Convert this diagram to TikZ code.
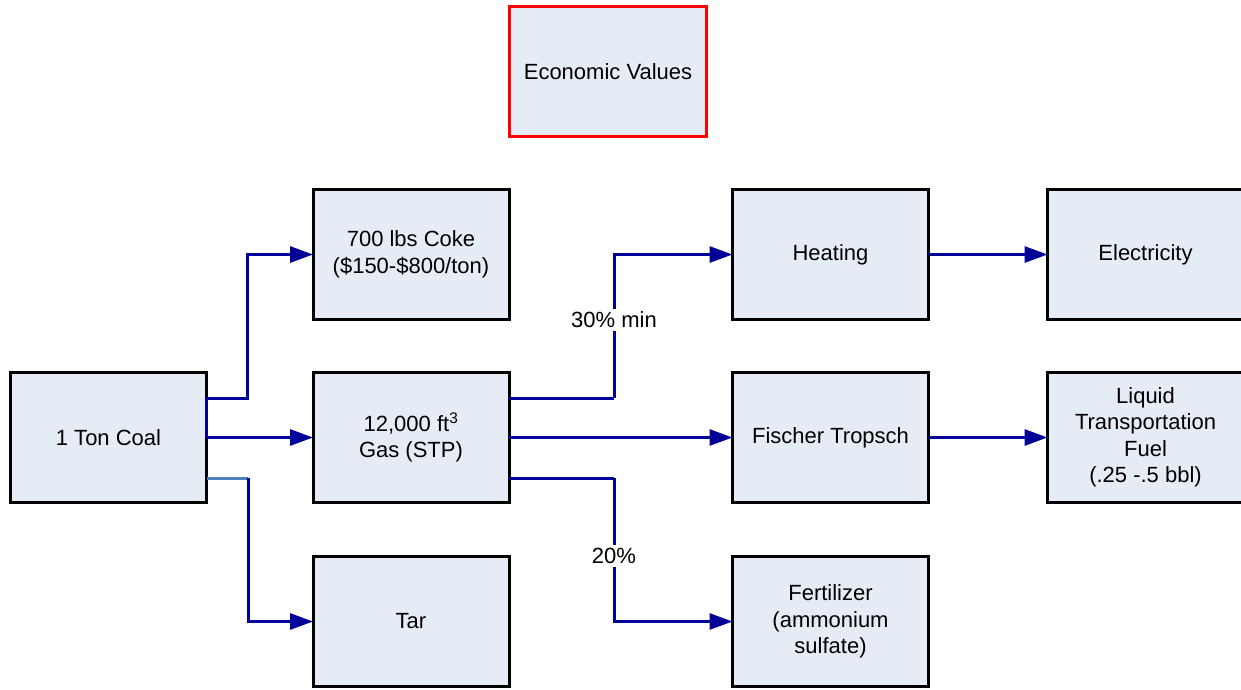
\documentclass[tikz,border=0pt]{standalone}
\usepackage{fontspec}
\setmainfont{Liberation Sans}
\usetikzlibrary{arrows.meta}
\definecolor{boxfill}{HTML}{E6ECF6}
\definecolor{flow}{HTML}{000099}
\definecolor{lightflow}{HTML}{4F81BD}
\tikzset{
  procbox/.style={draw=black, line width=3pt, fill=boxfill, minimum width=196pt, minimum height=130pt,
    align=center, inner sep=2pt, outer sep=0pt, font=\fontsize{22}{26.5}\selectfont},
  flowline/.style={draw=flow, line width=3pt, -{Triangle[length=23pt,width=16pt]}},
  plainflow/.style={draw=flow, line width=3pt},
  pct/.style={fill=white, inner sep=3pt, font=\fontsize{22}{26.5}\selectfont}
}
\begin{document}
\begin{tikzpicture}[x=1pt,y=-1pt]
\useasboundingbox (0,0) rectangle (1241,689);
\node[procbox, draw=red, minimum width=197pt] (econ) at (608,71.5) {Economic Values};
\node[procbox] (coal) at (108.5,437.5) {1 Ton Coal};
\node[procbox] (coke) at (411,254.5) {700 lbs Coke\\(\$150-\$800/ton)};
\node[procbox] (gas) at (411,437.5) {12,000 ft\textsuperscript{3}\\Gas (STP)};
\node[procbox] (tar) at (411,621.5) {Tar};
\node[procbox] (heat) at (830.5,254.5) {Heating};
\node[procbox] (ft) at (830.5,437.5) {Fischer Tropsch};
\node[procbox] (fert) at (830.5,621.5) {Fertilizer\\(ammonium\\sulfate)};
\node[procbox] (elec) at (1145.5,254.5) {Electricity};
\node[procbox] (liq) at (1145.5,437.5) {Liquid\\Transportation\\Fuel\\(.25 -.5 bbl)};

% coal outputs
\draw[flowline] (coal.east) -- ([yshift=39.5pt]coal.east) -- ++(41,0) |- (coke.west);
\draw[flowline] (coal.east) -- (gas.west);
\coordinate (tarbend) at (248,478);
\draw[draw=lightflow, line width=3pt] ([yshift=-40.5pt]coal.east) -- (tarbend);
\draw[flowline] (tarbend) |- (tar.west);

% gas outputs
\coordinate (hbend) at (614,398);
\draw[plainflow] ([yshift=39.5pt]gas.east) -- (hbend);
\draw[flowline] (hbend) |- (heat.west);
\node[pct] (l30) at (614,320) {30\% min};
\draw[flowline] (gas.east) -- (ft.west);
\coordinate (fbend) at (614,478);
\draw[plainflow] ([yshift=-40.5pt]gas.east) -- (fbend);
\draw[flowline] (fbend) |- (fert.west);
\node[pct] (l20) at (614,556) {20\%};

\draw[flowline] (heat.east) -- (elec.west);
\draw[flowline] (ft.east) -- (liq.west);
\end{tikzpicture}
\end{document}
